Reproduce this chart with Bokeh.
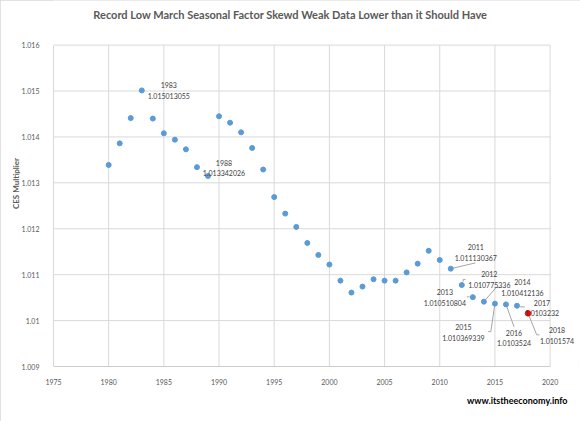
from bokeh.embed import file_html
from bokeh.resources import INLINE
from bokeh.plotting import figure
from bokeh.models import Label, FixedTicker, CustomJSTickFormatter, Range1d, Title

# CES March seasonal factor by year
years = list(range(1980, 2019))
multiplier = [
    1.01339, 1.01386, 1.01441, 1.015013055, 1.01440, 1.01408, 1.01394, 1.01373,
    1.013342026, 1.01315, 1.01445, 1.01431, 1.01410, 1.01376, 1.01329, 1.01269,
    1.01233, 1.01204, 1.01169, 1.01143, 1.01122, 1.01087, 1.01061, 1.01074,
    1.01090, 1.01087, 1.01087, 1.01105, 1.01124, 1.01152, 1.01132, 1.011130367,
    1.010775336, 1.010510804, 1.010412136, 1.010369339, 1.0103524, 1.0103232,
    1.0101574,
]
highlight_year = 2018

x_ticks = [1975, 1980, 1985, 1990, 1995, 2000, 2005, 2010, 2015, 2020]
y_ticks = [1.009, 1.010, 1.011, 1.012, 1.013, 1.014, 1.015, 1.016]

title_text = "Record Low March Seasonal Factor Skewd Weak Data Lower than it Should Have"
y_title = "CES Multiplier"
source_text = "www.itstheeconomy.info"

# data label placement in pixels relative to the point: text centre, leader line
label_layout = {
    1983: ((27, 0), []),
    1988: ((27, 1), []),
    2011: ((25, -16), [(0, 0), (24.7, -5.8)]),
    2012: ((27.5, -5.5), [(1.3, -3.4), (1.3, -5.4), (3.7, -5.4)]),
    2013: ((-28, 0.5), [(-6, -0.3), (-3.3, -0.3)]),
    2014: ((38.5, -14), [(0, 0), (12.2, -14.1), (16.9, -14.1)]),
    2015: ((-31.5, 29), [(0, 0), (-4.1, 28), (-6.8, 28)]),
    2016: ((8, 33.5), [(0, 0), (8.1, 22.5)]),
    2017: ((25, 2.5), [(3.1, 1.1), (7.8, 1.1)]),
    2018: ((29, 22), [(0, 0), (8.7, 21.5), (11.4, 21.5)]),
}

W, H = 580, 421
LEFT, BOTTOM = 53, 55
X0, X1 = 1975, 2020
Y0, Y1 = 1.009, 1.016
PX_X = 496.6 / (X1 - X0)   # px per year inside the plot box
PX_Y = 321.4 / (Y1 - Y0)   # px per unit
TOP_PAD = (H - BOTTOM) - 321.4   # title strip above the plot box, inside the frame

FONT = "Lato"
GREY = "#595959"
GRID = "#d9d9d9"

x_end = X0 + (W - LEFT) / PX_X
y_end = Y1 + TOP_PAD / PX_Y

p = figure(width=W, height=H, x_range=Range1d(X0, x_end), y_range=Range1d(Y0, y_end),
           output_backend="svg", toolbar_location=None,
           min_border_left=LEFT, min_border_right=0,
           min_border_top=0, min_border_bottom=BOTTOM)
p.outline_line_color = None
p.background_fill_color = "white"
p.border_fill_color = "white"
p.grid.visible = False
p.styles = {"outline": "1px solid #d9d9d9", "outline-offset": "-1px"}

p.xaxis.ticker = FixedTicker(ticks=x_ticks)
p.yaxis.ticker = FixedTicker(ticks=y_ticks)
p.xaxis.bounds = (X0, X1)
p.yaxis.bounds = (Y0, Y1)
p.yaxis.formatter = CustomJSTickFormatter(code="return tick.toFixed(3).replace(/0$/, '')")
for ax in (p.xaxis, p.yaxis):
    ax.major_tick_line_color = None
    ax.minor_tick_line_color = None
    ax.major_label_text_font = FONT
    ax.major_label_text_font_size = "7px"
    ax.major_label_text_color = GREY
    ax.axis_line_color = GRID
p.xaxis.axis_line_color = "#cccccc"
p.yaxis.major_label_standoff = 8
p.xaxis.major_label_standoff = 6
p.yaxis.axis_label = y_title
p.yaxis.axis_label_text_font = FONT
p.yaxis.axis_label_text_font_size = "8px"
p.yaxis.axis_label_text_font_style = "bold"
p.yaxis.axis_label_text_color = GREY
p.yaxis.axis_label_standoff = -2

# grid box limited to the axis ranges
p.segment(x0=x_ticks[1:], y0=[Y0] * (len(x_ticks) - 1), x1=x_ticks[1:], y1=[Y1] * (len(x_ticks) - 1),
          line_color=GRID, line_width=1)
p.segment(x0=[X0] * (len(y_ticks) - 1), y0=y_ticks[1:], x1=[X1] * (len(y_ticks) - 1), y1=y_ticks[1:],
          line_color=GRID, line_width=1)

# leader lines
xs, ys = [], []
for yr, ((dx, dy), pts) in label_layout.items():
    if not pts:
        continue
    v = multiplier[years.index(yr)]
    xs.append([yr + px / PX_X for px, py in pts])
    ys.append([v - py / PX_Y for px, py in pts])
p.multi_line(xs, ys, line_color="#a6a6a6", line_width=1)

blue_x = [y for y in years if y != highlight_year]
blue_y = [v for y, v in zip(years, multiplier) if y != highlight_year]
p.scatter(blue_x, blue_y, size=5, color="#5b9bd5")
p.scatter([highlight_year], [multiplier[years.index(highlight_year)]], size=5.5, color="#ff0000")

for yr, ((dx, dy), pts) in label_layout.items():
    v = multiplier[years.index(yr)]
    p.add_layout(Label(x=yr + dx / PX_X, y=v - dy / PX_Y, text=f"{yr}\n{v}",
                       text_align="center", text_baseline="middle",
                       text_font=FONT, text_font_size="7px", text_color="#404040",
                       text_line_height=1.3))

p.add_layout(Label(x=X0 + (290 - LEFT) / PX_X, y=Y1 + 30.3 / PX_Y, text=title_text,
                   text_align="center", text_baseline="middle", text_font=FONT,
                   text_font_size="11px", text_font_style="bold", text_color=GREY))

p.add_layout(Title(text=source_text, align="right", text_font=FONT, text_font_size="9px",
                   text_font_style="bold", text_color="black", standoff=10, offset=13),
             "below")

open("out.html", "w").write(file_html(p, INLINE))
